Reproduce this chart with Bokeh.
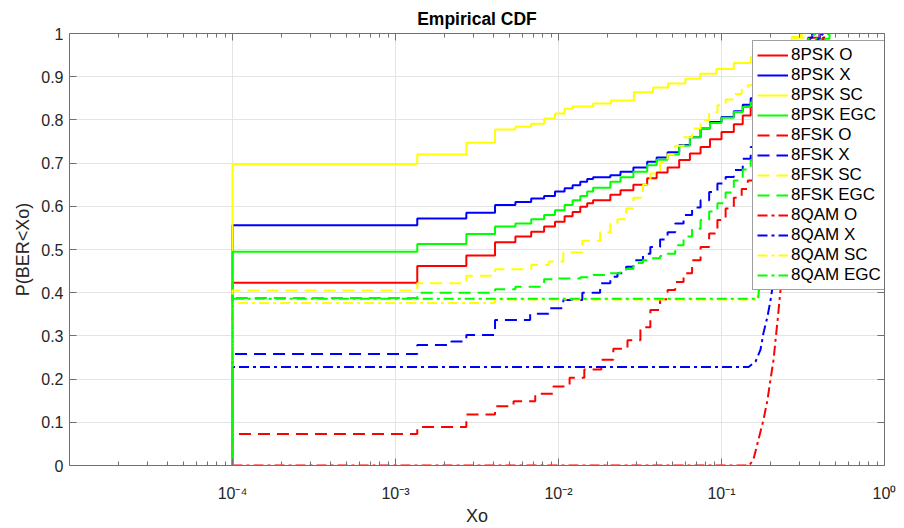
from bokeh.plotting import figure
from bokeh.models import (Range1d, FixedTicker, CustomJSTickFormatter, LogAxis,
                          LinearAxis)
from bokeh.embed import file_html
from bokeh.resources import INLINE

# ---------------- data ----------------
# 8PSK (solid)
psk_o_x = [1e-4, 1e-4, 1.36e-3, 2.72e-3, 4.08e-3, 5.44e-3, 6.8e-3, 8.16e-3, 9.52e-3, 1.09e-2,
           1.22e-2, 1.36e-2, 1.5e-2, 1.63e-2, 2.08e-2, 2.4e-2, 2.88e-2, 3.5e-2, 4.0e-2, 4.67e-2,
           5.5e-2, 6.4e-2, 7.44e-2, 8.5e-2, 0.1, 0.119, 0.135, 0.151, 0.18, 0.22, 0.26, 0.3,
           0.35, 0.40]
psk_o_y = [0, 0.423, 0.462, 0.486, 0.517, 0.53, 0.541, 0.553, 0.564, 0.577,
           0.587, 0.599, 0.607, 0.614, 0.627, 0.637, 0.65, 0.665, 0.678, 0.69,
           0.707, 0.722, 0.737, 0.755, 0.772, 0.79, 0.81, 0.83, 0.86, 0.9, 0.935, 0.965,
           0.99, 1.0]

psk_x_x = [1e-4, 1e-4, 1.36e-3, 2.72e-3, 4.08e-3, 5.44e-3, 6.8e-3, 8.16e-3, 9.52e-3, 1.09e-2,
           1.22e-2, 1.36e-2, 1.5e-2, 1.63e-2, 2.08e-2, 2.4e-2, 2.88e-2, 3.5e-2, 4.0e-2, 4.67e-2,
           5.5e-2, 6.4e-2, 7.44e-2, 8.5e-2, 0.1, 0.119, 0.135, 0.151, 0.18, 0.22, 0.26, 0.3,
           0.34, 0.36]
psk_x_y = [0, 0.556, 0.572, 0.585, 0.603, 0.61, 0.618, 0.624, 0.634, 0.642,
           0.649, 0.657, 0.663, 0.667, 0.672, 0.68, 0.69, 0.703, 0.713, 0.725,
           0.742, 0.76, 0.78, 0.795, 0.807, 0.82, 0.835, 0.85, 0.88, 0.915, 0.945, 0.97,
           0.99, 1.0]

psk_sc_x = [1e-4, 1e-4, 1.36e-3, 2.72e-3, 4.08e-3, 5.44e-3, 6.8e-3, 8.16e-3, 9.52e-3, 1.09e-2,
            1.22e-2, 1.63e-2, 2.1e-2, 2.9e-2, 3.8e-2, 4.7e-2, 6.0e-2, 7.4e-2, 9.3e-2, 0.119,
            0.151, 0.18, 0.21, 0.24, 0.27, 0.31]
psk_sc_y = [0, 0.698, 0.72, 0.747, 0.778, 0.784, 0.791, 0.803, 0.815, 0.826,
            0.831, 0.838, 0.845, 0.864, 0.875, 0.884, 0.895, 0.907, 0.918, 0.932,
            0.945, 0.958, 0.97, 0.982, 0.992, 1.0]

psk_egc_x = [1e-4, 1e-4, 1.36e-3, 2.72e-3, 4.08e-3, 5.44e-3, 6.8e-3, 8.16e-3, 9.52e-3, 1.09e-2,
             1.22e-2, 1.36e-2, 1.5e-2, 1.63e-2, 2.08e-2, 2.4e-2, 2.88e-2, 3.5e-2, 4.0e-2, 4.67e-2,
             5.5e-2, 6.4e-2, 7.44e-2, 8.5e-2, 0.1, 0.119, 0.135, 0.151, 0.18, 0.22, 0.27, 0.32,
             0.38, 0.46]
psk_egc_y = [0, 0.495, 0.513, 0.536, 0.553, 0.56, 0.57, 0.58, 0.591, 0.603,
             0.614, 0.624, 0.634, 0.643, 0.657, 0.667, 0.68, 0.695, 0.708, 0.72,
             0.74, 0.76, 0.78, 0.793, 0.805, 0.818, 0.83, 0.84, 0.865, 0.9, 0.935, 0.965,
             0.988, 1.0]

# 8FSK (dashed)
fsk_o_x = [1e-4, 1e-4, 1.36e-3, 2.72e-3, 4.08e-3, 5.3e-3, 7.2e-3, 9.3e-3, 1.17e-2, 1.44e-2,
           1.83e-2, 2.17e-2, 2.65e-2, 3.18e-2, 3.66e-2, 4.2e-2, 4.67e-2, 5.2e-2, 5.85e-2, 6.6e-2,
           7.44e-2, 8.4e-2, 9.44e-2, 0.106, 0.119, 0.133, 0.145, 0.17, 0.19, 0.215, 0.24,
           0.27, 0.3, 0.34, 0.37, 0.42]
fsk_o_y = [0, 0.073, 0.089, 0.118, 0.137, 0.149, 0.166, 0.183, 0.203, 0.222,
           0.245, 0.27, 0.29, 0.32, 0.36, 0.385, 0.406, 0.425, 0.445, 0.475,
           0.506, 0.537, 0.568, 0.595, 0.62, 0.64, 0.66, 0.7, 0.75, 0.8, 0.85,
           0.9, 0.93, 0.96, 0.98, 1.0]

fsk_x_x = [1e-4, 1e-4, 1.36e-3, 2.2e-3, 2.72e-3, 4.08e-3, 6.7e-3, 8.7e-3, 1.07e-2, 1.4e-2,
           1.8e-2, 2.08e-2, 2.3e-2, 2.6e-2, 2.88e-2, 3.3e-2, 3.66e-2, 4.2e-2, 4.67e-2, 5.2e-2,
           5.85e-2, 6.6e-2, 7.44e-2, 8.4e-2, 9.44e-2, 0.106, 0.119, 0.135, 0.151, 0.17,
           0.19, 0.22, 0.25, 0.29, 0.33, 0.4]
fsk_x_y = [0, 0.258, 0.279, 0.287, 0.302, 0.337, 0.351, 0.364, 0.383, 0.40,
           0.422, 0.437, 0.445, 0.46, 0.475, 0.49, 0.506, 0.523, 0.54, 0.56,
           0.58, 0.597, 0.614, 0.633, 0.653, 0.668, 0.684, 0.71, 0.737, 0.78,
           0.82, 0.87, 0.91, 0.95, 0.98, 1.0]

fsk_sc_x = [1e-4, 1e-4, 1.36e-3, 2.72e-3, 4.08e-3, 6.8e-3, 8.7e-3, 1.07e-2, 1.4e-2, 1.8e-2,
            2.08e-2, 2.3e-2, 2.6e-2, 2.88e-2, 3.3e-2, 3.66e-2, 4.2e-2, 4.67e-2, 5.2e-2, 5.85e-2,
            6.6e-2, 7.44e-2, 8.4e-2, 9.44e-2, 0.106, 0.119, 0.133, 0.145, 0.17, 0.2,
            0.24, 0.28, 0.32]
fsk_sc_y = [0, 0.405, 0.422, 0.439, 0.454, 0.464, 0.472, 0.493, 0.52, 0.54,
            0.56, 0.57, 0.595, 0.62, 0.65, 0.676, 0.70, 0.72, 0.74, 0.76,
            0.78, 0.80, 0.817, 0.834, 0.847, 0.86, 0.87, 0.88, 0.91, 0.94,
            0.97, 0.99, 1.0]

fsk_egc_x = [1e-4, 1e-4, 1.36e-3, 4.08e-3, 5.44e-3, 8.16e-3, 9.52e-3, 1.36e-2, 1.63e-2, 2.08e-2,
             2.4e-2, 2.88e-2, 3.3e-2, 3.7e-2, 4.2e-2, 4.67e-2, 5.2e-2, 5.85e-2, 6.6e-2, 7.44e-2,
             8.4e-2, 9.44e-2, 0.106, 0.119, 0.135, 0.151, 0.17, 0.19, 0.215, 0.24,
             0.27, 0.3, 0.34, 0.38, 0.45]
fsk_egc_y = [0, 0.388, 0.40, 0.408, 0.414, 0.431, 0.433, 0.436, 0.441, 0.445,
             0.455, 0.469, 0.475, 0.48, 0.485, 0.49, 0.51, 0.53, 0.548, 0.568,
             0.588, 0.607, 0.632, 0.66, 0.685, 0.707, 0.74, 0.78, 0.83, 0.87,
             0.91, 0.94, 0.965, 0.985, 1.0]

# 8QAM (dash-dot)
qam_o_x = [1e-4, 1e-4, 0.148, 0.157, 0.1686, 0.181, 0.1915, 0.2, 0.2087, 0.2145,
           0.221, 0.227, 0.2336, 0.24, 0.26, 0.29, 0.33, 0.38, 0.44]
qam_o_y = [0, 0.0, 0.0, 0.014, 0.06, 0.106, 0.152, 0.2, 0.245, 0.29,
           0.337, 0.383, 0.43, 0.476, 0.6, 0.75, 0.88, 0.96, 1.0]

qam_x_x = [1e-4, 1e-4, 0.1466, 0.162, 0.1735, 0.181, 0.1915, 0.2, 0.2087, 0.2145,
           0.24, 0.27, 0.31, 0.36, 0.42]
qam_x_y = [0, 0.228, 0.228, 0.241, 0.268, 0.307, 0.345, 0.383, 0.43, 0.476,
           0.62, 0.78, 0.9, 0.97, 1.0]

qam_sc_x = [1e-4, 1e-4, 4.08e-3, 4.08e-3, 0.166, 0.172, 0.18, 0.19, 0.22, 0.26, 0.31]
qam_sc_y = [0, 0.376, 0.376, 0.384, 0.384, 0.45, 0.55, 0.7, 0.85, 0.95, 1.0]

qam_egc_x = [1e-4, 1e-4, 0.168, 0.174, 0.182, 0.195, 0.22, 0.26, 0.32, 0.38]
qam_egc_y = [0, 0.386, 0.386, 0.45, 0.55, 0.65, 0.8, 0.92, 0.98, 1.0]

x_tick_values = [1e-4, 1e-3, 1e-2, 1e-1, 1.0]
y_tick_values = [0, 0.1, 0.2, 0.3, 0.4, 0.5, 0.6, 0.7, 0.8, 0.9, 1.0]

# ---------------- figure ----------------
FONT = "Liberation Sans"
RED, BLUE, YELLOW, GREEN = "#ff0000", "#0000ff", "#ffff00", "#00ff00"
DASH = "12 7"
DASHDOT = "10 4 3 4"

p = figure(width=904, height=528, x_axis_type="log",
           x_range=Range1d(1e-5, 1.0), y_range=Range1d(0, 1),
           output_backend="svg", toolbar_location=None,
           min_border_left=69, min_border_right=20, min_border_top=33, min_border_bottom=62,
           title="Empirical CDF")
p.background_fill_color = "white"
p.border_fill_color = "white"
p.outline_line_color = None

p.title.align = "center"
p.title.text_font = FONT
p.title.text_font_size = "17.5px"
p.title.text_font_style = "bold"
p.title.text_color = "#000000"
p.title.standoff = 10

minor = [m * 10.0 ** e for e in range(-5, 0) for m in range(2, 10)]
xt = FixedTicker(ticks=x_tick_values, minor_ticks=minor)
yt = FixedTicker(ticks=y_tick_values)

log_fmt = CustomJSTickFormatter(code="""
const e = Math.round(Math.log10(tick));
const m = {"-":"\\u207b","0":"\\u2070","1":"\\u00b9","2":"\\u00b2","3":"\\u00b3","4":"\\u2074",
           "5":"\\u2075","6":"\\u2076","7":"\\u2077","8":"\\u2078","9":"\\u2079"};
let s = "";
for (const c of String(e)) { s += m[c]; }
return "10" + s;
""")
lin_fmt = CustomJSTickFormatter(code="return (Math.round(tick*10)/10).toString();")
blank_fmt = CustomJSTickFormatter(code="return '';")

AX = "#707070"

def style_axis(ax, minor_on=True):
    ax.axis_line_color = AX
    ax.axis_line_width = 1
    ax.major_tick_line_color = AX
    ax.major_tick_in = 7
    ax.major_tick_out = 0
    if minor_on:
        ax.minor_tick_line_color = AX
        ax.minor_tick_in = 4
        ax.minor_tick_out = 0
    else:
        ax.minor_tick_line_color = None
    ax.major_label_text_font = FONT
    ax.major_label_text_font_size = "16px"
    ax.major_label_text_color = "#262626"
    ax.axis_label_text_font = FONT
    ax.axis_label_text_font_size = "18px"
    ax.axis_label_text_font_style = "normal"
    ax.axis_label_text_color = "#262626"

xa = p.xaxis[0]
xa.ticker = xt
xa.formatter = log_fmt
xa.axis_label = "Xo"
style_axis(xa)
xa.major_label_standoff = 19
xa.axis_label_standoff = 1

ya = p.yaxis[0]
ya.ticker = yt
ya.formatter = lin_fmt
ya.axis_label = "P(BER<Xo)"
style_axis(ya, minor_on=False)
ya.major_label_standoff = 6
ya.axis_label_standoff = 5

top = LogAxis(ticker=xt, formatter=blank_fmt)
style_axis(top)
top.major_label_text_font_size = "0px"
top.major_label_standoff = 0
p.add_layout(top, "above")

right = LinearAxis(ticker=yt, formatter=blank_fmt)
style_axis(right, minor_on=False)
right.major_label_text_font_size = "0px"
right.major_label_standoff = 0
p.add_layout(right, "right")

p.xgrid.ticker = xt
p.ygrid.ticker = yt
for g in (p.xgrid[0], p.ygrid[0]):
    g.grid_line_color = "#e4e4e4"
    g.grid_line_width = 1
    g.minor_grid_line_color = None

W = 2
p.step(psk_o_x, psk_o_y, mode="after", color=RED, line_width=W, legend_label="8PSK O")
p.step(psk_x_x, psk_x_y, mode="after", color=BLUE, line_width=W, legend_label="8PSK X")
p.step(psk_sc_x, psk_sc_y, mode="after", color=YELLOW, line_width=W, legend_label="8PSK SC")
p.step(psk_egc_x, psk_egc_y, mode="after", color=GREEN, line_width=W, legend_label="8PSK EGC")
p.step(fsk_o_x, fsk_o_y, mode="after", color=RED, line_width=W, line_dash=DASH, legend_label="8FSK O")
p.step(fsk_x_x, fsk_x_y, mode="after", color=BLUE, line_width=W, line_dash=DASH, legend_label="8FSK X")
p.step(fsk_sc_x, fsk_sc_y, mode="after", color=YELLOW, line_width=W, line_dash=DASH, legend_label="8FSK SC")
p.step(fsk_egc_x, fsk_egc_y, mode="after", color=GREEN, line_width=W, line_dash=DASH, legend_label="8FSK EGC")
p.line(qam_o_x, qam_o_y, color=RED, line_width=W, line_dash=DASHDOT, legend_label="8QAM O")
p.line(qam_x_x, qam_x_y, color=BLUE, line_width=W, line_dash=DASHDOT, legend_label="8QAM X")
p.line(qam_sc_x, qam_sc_y, color=YELLOW, line_width=W, line_dash=DASHDOT, legend_label="8QAM SC")
p.line(qam_egc_x, qam_egc_y, color=GREEN, line_width=W, line_dash=DASHDOT, legend_label="8QAM EGC")

lg = p.legend[0]
lg.location = (683, 175)
lg.margin = 0
lg.padding = 4
lg.spacing = 0
lg.label_height = 20
lg.glyph_height = 20
lg.glyph_width = 31
lg.label_standoff = 3
lg.label_text_font = FONT
lg.label_text_font_size = "17px"
lg.label_text_color = "#000000"
lg.border_line_color = "#404040"
lg.border_line_width = 1
lg.background_fill_color = "white"
lg.background_fill_alpha = 1.0

open("out.html", "w").write(file_html(p, INLINE))
